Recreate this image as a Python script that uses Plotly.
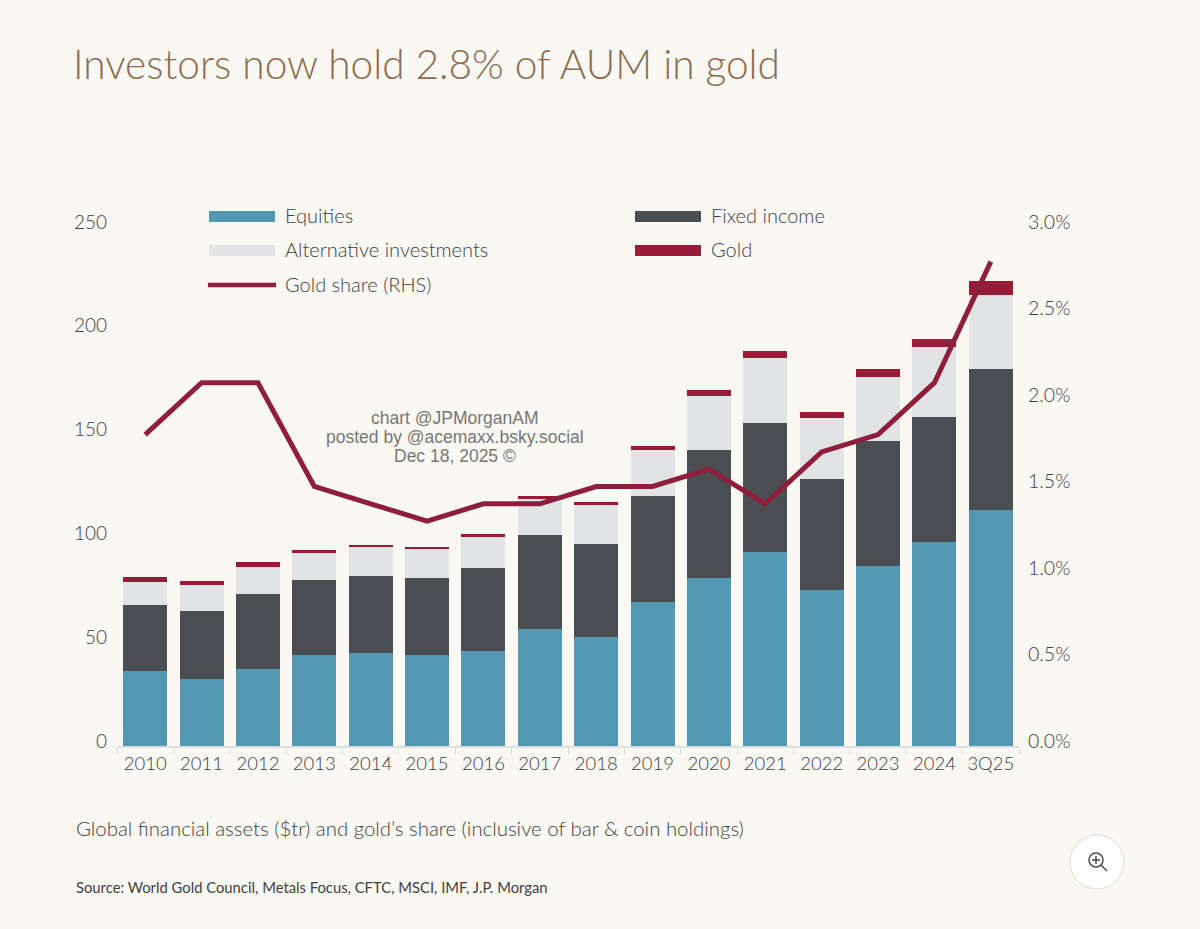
import plotly.graph_objects as go

years = ["2010", "2011", "2012", "2013", "2014", "2015", "2016", "2017", "2018", "2019", "2020", "2021", "2022", "2023", "2024", "3Q25"]
equities = [36.0, 32.1, 37.1, 43.8, 44.8, 43.8, 46.0, 56.4, 52.5, 69.2, 80.8, 93.4, 75.0, 86.6, 98.3, 113.9]
fixed_income = [32.1, 33.1, 36.0, 36.0, 36.9, 36.9, 39.6, 45.0, 44.8, 51.4, 62.0, 62.0, 53.5, 60.2, 60.1, 67.7]
alternatives = [11.1, 12.3, 13.0, 13.2, 14.1, 14.0, 15.1, 17.6, 18.8, 21.8, 26.0, 31.6, 29.5, 30.8, 33.6, 35.8]
gold = [2.2, 1.9, 2.3, 1.2, 1.2, 1.1, 1.2, 1.3, 1.3, 2.3, 2.9, 3.2, 3.1, 3.9, 4.1, 6.7]
gold_share = [1.8, 2.1, 2.1, 1.5, 1.4, 1.3, 1.4, 1.4, 1.5, 1.5, 1.6, 1.4, 1.7, 1.8, 2.1, 2.8]

BG = "#FAF8F3"
TEXT = "#3E4044"
FONT = "Lato"
COL_EQ = "#5497B2"
COL_FI = "#4A4D52"
COL_ALT = "#E2E3E5"
COL_GOLD = "#981B38"
COL_LINE = "#8E1E3C"

# plot area in page pixels, everything decorative below is placed from these
LEFT, RIGHT, TOP, BOTTOM = 117, 1019, 227, 746


def px(x):
    return (x - LEFT) / (RIGHT - LEFT)


def py(y):
    return (BOTTOM - y) / (BOTTOM - TOP)


fig = go.Figure()
for name, values, colour in [("Equities", equities, COL_EQ), ("Fixed income", fixed_income, COL_FI),
                             ("Alternative investments", alternatives, COL_ALT), ("Gold", gold, COL_GOLD)]:
    fig.add_trace(go.Bar(x=years, y=values, name=name, marker=dict(color=colour, line_width=0), yaxis="y"))

fig.add_trace(go.Scatter(x=years, y=gold_share, name="Gold share (RHS)", mode="lines", yaxis="y2",
                         line=dict(color=COL_LINE, width=5)))

shapes = []
annotations = []

# Hand placed legend, swatches are much wider than plotly's own
legend_items = [("Equities", COL_EQ, 209, 216.5), ("Fixed income", COL_FI, 635, 216.5),
                ("Alternative investments", COL_ALT, 209, 250.5), ("Gold", COL_GOLD, 635, 250.5)]
for label, colour, x0, y0 in legend_items:
    shapes.append(dict(type="rect", xref="paper", yref="paper", x0=px(x0), x1=px(x0 + 66), y0=py(y0 - 5.5), y1=py(y0 + 5.5),
                       fillcolor=colour, line_width=0))
    annotations.append(dict(text=label, x=px(x0 + 74), y=py(y0 - 1), xanchor="left", yanchor="middle"))
shapes.append(dict(type="line", xref="paper", yref="paper", x0=px(208), x1=px(276), y0=py(285), y1=py(285),
                   line=dict(color=COL_LINE, width=4.5)))
annotations.append(dict(text="Gold share (RHS)", x=px(283), y=py(284), xanchor="left", yanchor="middle"))
for a in annotations:
    a.update(xref="paper", yref="paper", showarrow=False, font=dict(family=FONT, size=20, color=TEXT, weight=300))

# watermark lines sit closer than plotly's line spacing, so one annotation each
for line, y0 in [("chart @JPMorganAM", 418), ("posted by @acemaxx.bsky.social", 437), ("Dec 18, 2025 ©", 456)]:
    annotations.append(dict(text=line, xref="paper", yref="paper", x=px(455), y=py(y0), xanchor="center", yanchor="middle",
                            showarrow=False, borderpad=0, font=dict(family="Liberation Sans", size=17.5, color="#777777")))
annotations.append(dict(text="Global financial assets ($tr) and gold’s share (inclusive of bar & coin holdings)", xref="paper", yref="paper",
                        x=px(74), y=py(828), xanchor="left", yanchor="middle", showarrow=False,
                        font=dict(family=FONT, size=20.4, color=TEXT, weight=300)))
annotations.append(dict(text="Source: World Gold Council, Metals Focus, CFTC, MSCI, IMF, J.P. Morgan", xref="paper", yref="paper",
                        x=px(74), y=py(887), xanchor="left", yanchor="middle", showarrow=False,
                        font=dict(family=FONT, size=14.8, color=TEXT)))

# zoom button, bottom right
shapes.append(dict(type="circle", xref="paper", yref="paper", x0=px(1070), x1=px(1124), y0=py(835), y1=py(889),
                   fillcolor="#FFFFFF", line=dict(color="#E9E6E1", width=1.5)))
shapes.append(dict(type="circle", xref="paper", yref="paper", x0=px(1089), x1=px(1103), y0=py(853), y1=py(867),
                   line=dict(color="#4A4D52", width=1.5)))
for x0, y0, x1, y1 in [(1092, 860, 1100, 860), (1096, 856, 1096, 864), (1101, 865, 1107, 871)]:
    shapes.append(dict(type="line", xref="paper", yref="paper", x0=px(x0), x1=px(x1), y0=py(y0), y1=py(y1),
                       line=dict(color="#4A4D52", width=1.5)))

fig.update_layout(
    width=1200,
    height=929,
    barmode="stack",
    bargap=0.22,
    showlegend=False,
    paper_bgcolor=BG,
    plot_bgcolor=BG,
    margin=dict(l=LEFT, r=1200 - RIGHT, t=TOP, b=929 - BOTTOM),
    title=dict(text="Investors now hold 2.8% of AUM in gold", x=73 / 1200, xanchor="left", y=1 - 65 / 929, yanchor="middle",
               font=dict(family=FONT, size=40.6, color="#8B6C4F", weight=300)),
    shapes=shapes,
    annotations=annotations,
    xaxis=dict(type="category", showgrid=False, showline=True, linecolor="#DDE0E0", linewidth=1.5, ticks="outside",
               tickson="boundaries", ticklen=6, tickcolor="#DDE0E0", tickfont=dict(family=FONT, size=18.5, color=TEXT, weight=300)),
    yaxis=dict(range=[0, 250], dtick=50, showgrid=False, zeroline=False, ticks="", ticklabelstandoff=9, ticklabelshift=-5,
               tickfont=dict(family=FONT, size=19, color=TEXT, weight=300)),
    yaxis2=dict(range=[0, 3], dtick=0.5, overlaying="y", side="right", showgrid=False, zeroline=False, ticks="",
                tickformat=".1f", ticksuffix="%", ticklabelstandoff=8, ticklabelshift=-5,
                tickfont=dict(family=FONT, size=19.5, color=TEXT, weight=300)),
)

fig.write_html("out.html", config={"displayModeBar": False}, post_script="document.body.style.margin='0';")
